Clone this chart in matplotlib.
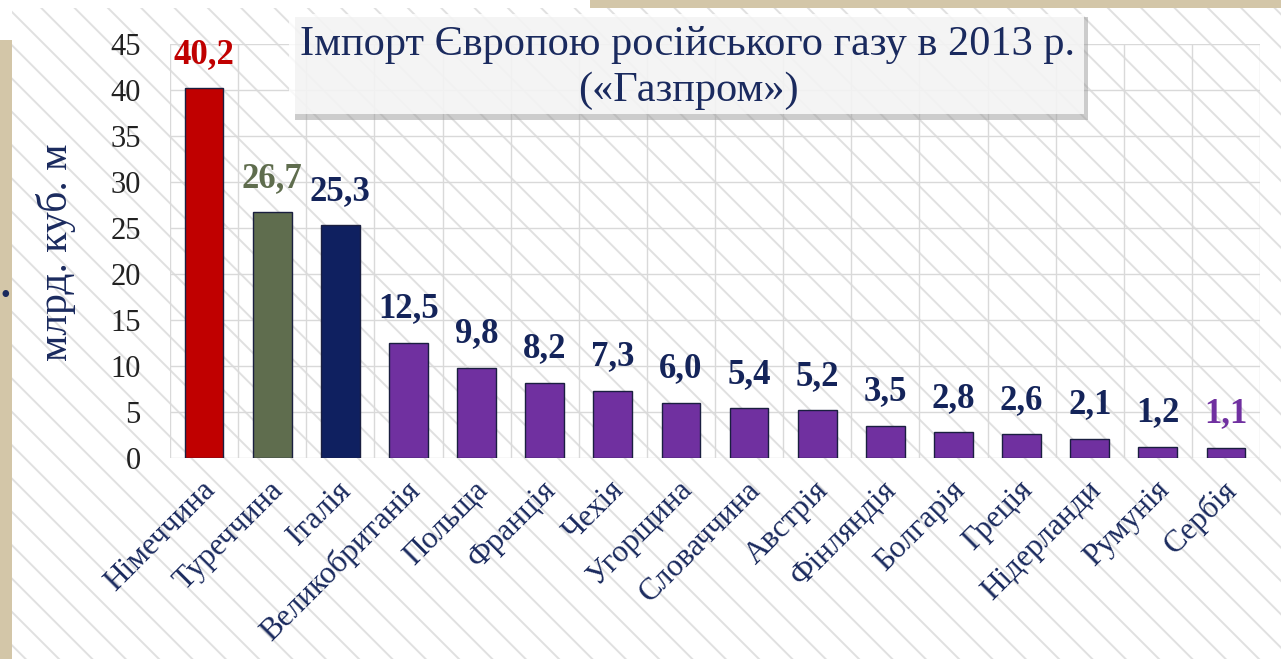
import matplotlib.pyplot as plt
from matplotlib.patches import Rectangle
import numpy as np

countries = ['Німеччина', 'Туреччина', 'Італія', 'Великобританія', 'Польща',
             'Франція', 'Чехія', 'Угорщина', 'Словаччина', 'Австрія',
             'Фінляндія', 'Болгарія', 'Греція', 'Нідерланди', 'Румунія', 'Сербія']
values = [40.2, 26.7, 25.3, 12.5, 9.8, 8.2, 7.3, 6.0, 5.4, 5.2, 3.5, 2.8, 2.6, 2.1, 1.2, 1.1]
bar_colors = ['#c00000', '#5f6d4e', '#0f2060'] + ['#7030a0'] * 13
label_colors = ['#c00000', '#5f6d4e'] + ['#14245a'] * 13 + ['#7030a0']

navy = '#1a2a5e'
plt.rcParams['font.family'] = ['Liberation Serif', 'DejaVu Serif']
plt.rcParams['hatch.linewidth'] = 1.4

fig = plt.figure(figsize=(12.81, 6.59), dpi=100)
fig.patch.set_facecolor('white')

# hatched panel + linen strips
W, H = 1281, 659
def fx(px): return px / W
def fy(py): return 1 - py / H
fig.patches.append(Rectangle((fx(12), 0), 1 - fx(12), fy(8), transform=fig.transFigure,
                             facecolor='white', edgecolor='#e0e0e0', hatch='\\', lw=0, zorder=-2))
fig.patches.append(Rectangle((0, 0), fx(12), fy(40), transform=fig.transFigure,
                             facecolor='#d3c6a8', lw=0, zorder=-1))
fig.patches.append(Rectangle((fx(590), fy(8)), 1 - fx(590), 1 - fy(8), transform=fig.transFigure,
                             facecolor='#d3c6a8', lw=0, zorder=-1))
fig.text(fx(5), fy(297), '•', color=navy, fontsize=20, ha='center', va='center')

ax = fig.add_axes([fx(170), fy(458), fx(1260) - fx(170), fy(44) - fy(458)], zorder=1)
ax.set_facecolor('none')
x = np.arange(len(countries))
ax.bar(x, values, width=0.57, color=bar_colors, edgecolor='#1a1f40', linewidth=1, zorder=3)
for xi, v, c in zip(x, values, label_colors):
    ax.text(xi, v + 1.9, f'{v:.1f}'.replace('.', ','), ha='center', va='bottom',
            fontsize=25, fontweight='bold', color=c, zorder=4)

ax.set_xlim(-0.5, len(countries) - 0.5)
ax.set_ylim(0, 45)
ax.set_yticks(np.arange(0, 46, 5))
ax.set_xticks(np.arange(-0.5, len(countries), 1))
ax.set_xticklabels([])
ax.tick_params(axis='both', length=0)
ax.tick_params(axis='y', labelsize=22, labelcolor='#222222', pad=21)
ax.grid(True, color='#d9d9d9', linewidth=1, zorder=0)
for s in ax.spines.values():
    s.set_visible(False)

for xi, name in zip(x, countries):
    ax.annotate(name, xy=(xi, 0), xytext=(5, -20), textcoords='offset points',
                rotation=45, ha='right', va='center', rotation_mode='anchor',
                fontsize=22.5, color=navy)

fig.text(fx(56), fy(252), 'млрд. куб. м', rotation=90, ha='center', va='center',
         fontsize=30, color=navy)

# title box with shadow
fig.patches.append(Rectangle((fx(295), fy(120)), fx(1088) - fx(295), fy(17) - fy(120),
                             transform=fig.transFigure, facecolor='#9a9a9a', alpha=0.5,
                             lw=0, zorder=5))
fig.patches.append(Rectangle((fx(289), fy(114)), fx(1084) - fx(289), fy(14) - fy(114),
                             transform=fig.transFigure, facecolor='white', alpha=0.8,
                             lw=0, zorder=6))
fig.text(fx(688), fy(45), 'Імпорт Європою російського газу в 2013 р.', ha='center',
         va='center', fontsize=30.5, color=navy, zorder=7)
fig.text(fx(688), fy(91), '(«Газпром»)', ha='center', va='center',
         fontsize=30.5, color=navy, zorder=7)

fig.savefig('out.png', dpi=100)
